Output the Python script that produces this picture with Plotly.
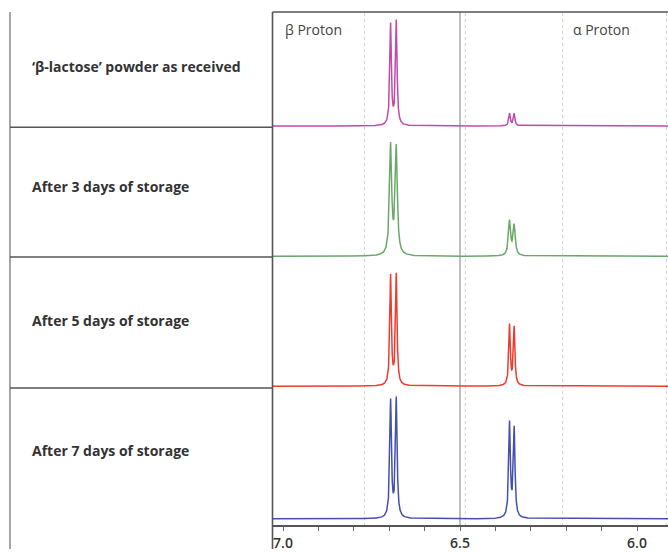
import numpy as np
import plotly.graph_objects as go

W, H = 668, 552

# ---- data ----
sample_labels = ["\u2018\u03b2-lactose\u2019 powder as received",
                 "After 3 days of storage",
                 "After 5 days of storage",
                 "After 7 days of storage"]
colors = ["#c04aa8", "#6aa86a", "#ee3b2e", "#4350ad"]
beta_shifts = [6.696, 6.680]     # ppm, beta-proton doublet
alpha_shifts = [6.360, 6.347]    # ppm, alpha-proton doublet
beta_heights = [[104, 107], [115, 113], [113, 114], [121, 123]]   # apex heights
alpha_heights = [[13, 13], [37, 33], [63, 61], [99, 94]]
line_hwhm = [0.0026, 0.0036, 0.0026, 0.0028]   # ppm
tick_vals = [7.0, 6.9, 6.8, 6.7, 6.6, 6.5, 6.4, 6.3, 6.2, 6.1, 6.0]
tick_text = ["7.0", "", "", "", "", "6.5", "", "", "", "", "6.0"]
dotted_grid = [6.77, 6.485, 6.21, 5.917]

# ---- layout geometry (pixels) ----
def px_x(p):
    return p / W

def px_y(p):
    return 1 - p / H

plot_left = 272.5
plot_top = 12
axis_y = 529
panel_bounds = [(12, 128), (128, 258.5), (258.5, 390), (390, 529)]
baselines = [126.7, 257.7, 388.3, 521.7]
label_y = [67, 188, 322, 453]

x_left = 7.0 + (283 - plot_left) / 354.0
x_right = 6.0 - (W - 637) / 354.0

ppm = np.arange(x_right, x_left, 0.0004)


def lorentz(x, c, g):
    return 1.0 / (1 + ((x - c) / g) ** 2)


def doublet(x, centers, apex, g):
    # amplitudes chosen so the summed curve reaches the observed apex heights
    M = np.array([[lorentz(ci, cj, g) for cj in centers] for ci in centers])
    amps = np.linalg.solve(M, np.array(apex, dtype=float))
    return sum(a * lorentz(x, c, g) for a, c in zip(amps, centers))


fig = go.Figure()
layout_axes = {}
for i in range(4):
    g = line_hwhm[i]
    inten = doublet(ppm, beta_shifts, beta_heights[i], g) + \
        doublet(ppm, alpha_shifts, alpha_heights[i], g)
    yname = "y" if i == 0 else f"y{i+1}"
    fig.add_trace(go.Scatter(x=ppm, y=inten, mode="lines",
                             line=dict(color=colors[i], width=1.5),
                             xaxis="x", yaxis=yname, hoverinfo="skip",
                             showlegend=False))
    top, bot = panel_bounds[i]
    base = baselines[i]
    key = "yaxis" if i == 0 else f"yaxis{i+1}"
    layout_axes[key] = dict(domain=[px_y(bot), px_y(top)],
                            range=[-(bot - base), base - top],
                            visible=False, fixedrange=True, anchor="x")

fig.update_layout(**layout_axes)
fig.update_layout(
    width=W, height=H,
    margin=dict(l=0, r=0, t=0, b=0),
    paper_bgcolor="white", plot_bgcolor="rgba(0,0,0,0)",
    xaxis=dict(domain=[px_x(plot_left), 1], range=[x_left, x_right],
               anchor="free", position=px_y(axis_y),
               showline=True, linecolor="#555", linewidth=1.5,
               showgrid=False, zeroline=False,
               ticks="outside", ticklen=4, tickcolor="#666", tickwidth=1,
               tickvals=tick_vals, ticktext=tick_text,
               tickfont=dict(family="Open Sans", size=14, color="#333", weight=600),
               fixedrange=True),
    font=dict(family="Open Sans"),
)

shapes = []
line_col = "#555"
shapes.append(dict(type="line", xref="paper", yref="paper",
                   x0=px_x(10), x1=px_x(10), y0=px_y(plot_top), y1=0,
                   line=dict(color="#777", width=1.3)))
shapes.append(dict(type="line", xref="paper", yref="paper",
                   x0=px_x(plot_left), x1=px_x(plot_left), y0=px_y(plot_top), y1=0,
                   line=dict(color=line_col, width=1.6)))
shapes.append(dict(type="line", xref="paper", yref="paper",
                   x0=px_x(plot_left), x1=1, y0=px_y(plot_top), y1=px_y(plot_top),
                   line=dict(color=line_col, width=1.6)))
for top, bot in panel_bounds[:3]:
    shapes.append(dict(type="line", xref="paper", yref="paper",
                       x0=px_x(10), x1=px_x(plot_left), y0=px_y(bot), y1=px_y(bot),
                       line=dict(color=line_col, width=1.5)))
for v in dotted_grid:
    shapes.append(dict(type="line", xref="x", yref="paper",
                       x0=v, x1=v, y0=px_y(axis_y), y1=px_y(plot_top),
                       line=dict(color="#cfcfcf", width=1, dash="dot"), layer="below"))
shapes.append(dict(type="line", xref="x", yref="paper",
                   x0=6.5, x1=6.5, y0=px_y(axis_y), y1=px_y(plot_top),
                   line=dict(color="#a8a8a8", width=1.5), layer="below"))
fig.update_layout(shapes=shapes)

ann = []
for lab, yy in zip(sample_labels, label_y):
    ann.append(dict(text=lab, xref="paper", yref="paper",
                    x=px_x(30), y=px_y(yy), xanchor="left", yanchor="middle",
                    showarrow=False,
                    font=dict(family="Open Sans", size=14, color="#333", weight="bold")))
ann.append(dict(text="\u03b2 Proton", xref="paper", yref="paper",
                x=px_x(283), y=px_y(30), xanchor="left", yanchor="middle",
                showarrow=False, font=dict(family="Open Sans", size=14, color="#444")))
ann.append(dict(text="\u03b1 Proton", xref="paper", yref="paper",
                x=px_x(571), y=px_y(30), xanchor="left", yanchor="middle",
                showarrow=False, font=dict(family="Open Sans", size=14, color="#444")))
fig.update_layout(annotations=ann)

fig.write_html("out.html", config={"displayModeBar": False},
               post_script="document.body.style.margin='0';")
